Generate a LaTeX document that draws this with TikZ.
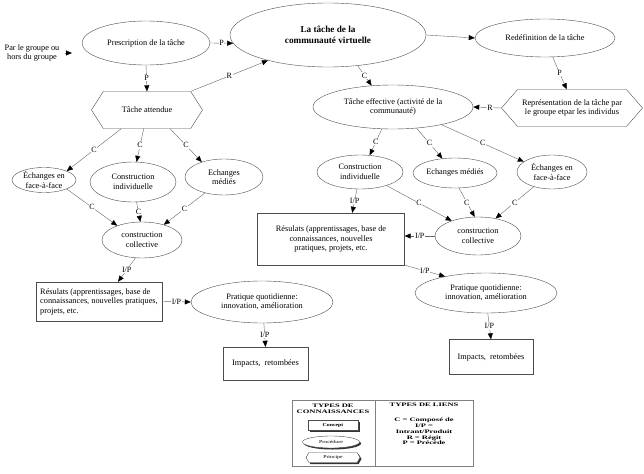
\documentclass[tikz,border=0pt]{standalone}
\usepackage{fontspec}
\setmainfont{Liberation Serif}
\usetikzlibrary{shapes.geometric,shapes.symbols,arrows.meta,shadows}
\newcommand{\legtext}[1]{\scalebox{1.6}[1]{\begin{tabular}{@{}c@{}}#1\end{tabular}}}

\begin{document}
\begin{tikzpicture}[
    x=1pt, y=-1pt,
    every node/.style={font=\fontsize{8.3}{9.5}\selectfont},
    oval/.style={draw=black!70, ellipse, inner sep=0pt, align=center},
    hexa/.style={draw=black!70, signal, signal to=east and west, inner sep=1pt, align=center},
    box/.style={draw=black!70, rectangle, inner sep=2pt},
    link/.style={draw=black!60, -{Triangle[length=6pt,width=5pt,color=black]}},
    lbl/.style={fill=white, inner sep=0.6pt, font=\fontsize{8}{8}\selectfont},
    legfont/.style={font=\fontsize{5.3}{5.9}\selectfont\bfseries},
    shade/.style={drop shadow={shadow xshift=1.5pt, shadow yshift=-1.5pt, fill=black!80, opacity=1}}
  ]
  \useasboundingbox (0,0) rectangle (644,473);
  \node [align=center] (par) at (32,53) {Par le groupe ou\\hors du groupe};
  \coordinate (parA) at (65,53);
  \coordinate (parB) at (72,53);
  \node [oval, minimum width=128pt, minimum height=44pt] (pres) at (146,43) {Prescription de la tâche};
  \node [oval, minimum width=196pt, minimum height=64pt,
    font=\fontsize{9.2}{11}\selectfont\bfseries] (main) at (328,35) {La tâche de la\\communauté virtuelle};
  \node [oval, minimum width=140pt, minimum height=38pt] (redef) at (545,38) {Redéfinition de la tâche};
  \node [hexa, minimum width=111pt, minimum height=37pt, signal pointer angle=115] (att) at (147,110) {Tâche attendue};
  \node [hexa, minimum width=141pt, minimum height=37pt, signal pointer angle=98] (repr) at (572,108)
    {Représentation de la tâche par\\le groupe etpar les individus};
  \node [oval, minimum width=160pt, minimum height=44pt] (eff) at (393,107) {Tâche effective (activité de la\\communauté)};

  \node [oval, minimum width=64pt, minimum height=25pt] (efl) at (44,180) {Échanges en\\face-à-face};
  \node [oval, minimum width=86pt, minimum height=40pt] (cil) at (133,182) {Construction\\individuelle};
  \node [oval, minimum width=78pt, minimum height=36pt] (eml) at (224,177) {Echanges\\médiés};
  \node [oval, minimum width=80pt, minimum height=36pt] (ccl) at (142,240) {construction\\collective};
  \node [box, minimum width=126pt, minimum height=39pt, align=left] (resl) at (99,301.5)
    {Résulats (apprentissages, base de\\connaissances, nouvelles pratiques,\\projets, etc.};
  \node [oval, minimum width=142pt, minimum height=42pt] (pratl) at (262,302) {Pratique quotidienne:\\innovation, amélioration};
  \node [box, minimum width=85pt, minimum height=33pt] (impl) at (265.5,363.5) {Impacts,~~retombées};

  \node [oval, minimum width=86pt, minimum height=34pt] (cir) at (360,172) {Construction\\individuelle};
  \node [oval, minimum width=84pt, minimum height=30pt] (emr) at (455,173) {Echanges médiés};
  \node [oval, minimum width=70pt, minimum height=34pt] (efr) at (552,172) {Échanges en\\face-à-face};
  \node [oval, minimum width=86pt, minimum height=38pt] (ccr) at (478,236) {construction\\collective};
  \node [box, minimum width=147pt, minimum height=52pt, align=center] (resr) at (331,239)
    {Résulats (apprentissages, base de\\connaissances, nouvelles\\pratiques, projets, etc.};
  \node [oval, minimum width=142pt, minimum height=40pt] (pratr) at (486,293) {Pratique quotidienne:\\innovation, amélioration};
  \node [box, minimum width=84pt, minimum height=35pt] (impr) at (491,357) {Impacts,~~retombées};

  \draw [link] (parA) -- (parB);
  \draw [link] (pres.east) -- (main.185) node [lbl,pos=0.5] {P};
  \draw [link] (main.east) -- (redef.west);
  \draw [link] (pres.south) -- (att.north) node [lbl,pos=0.5] {P};
  \draw [link] (att.north east) -- (main.203) node [lbl,pos=0.5] {R};
  \draw [link] (redef.292) -- (repr.106) node [lbl,pos=0.5] {P};
  \draw [link] (repr.west) -- (eff.east) node [lbl,pos=0.4] {R};
  \draw [link] (main.314) -- (eff.135) node [lbl,pos=0.5] {C};

  \draw [link] (att.216) -- (efl.north east) node [lbl,pos=0.5] {C};
  \draw [link] (att.260) -- (cil.80) node [lbl,pos=0.5] {C};
  \draw [link] (att.321) -- (eml.146) node [lbl,pos=0.5] {C};
  \draw [link] (efl.south east) -- (ccl.150) node [lbl,pos=0.5] {C};
  \draw [link] (cil.-80) -- (ccl.95) node [lbl,pos=0.5] {C};
  \draw [link] (eml.220) -- (ccl.35) node [lbl,pos=0.5] {C};
  \draw [link] (ccl.250) -- (resl.46) node [lbl,pos=0.5] {I/P};
  \draw [link] (resl.east) -- (pratl.west) node [lbl,pos=0.5] {I/P};
  \draw [link] (pratl.-85) -- (impl.north) node [lbl,pos=0.5] {I/P};

  \draw [link] (eff.243) -- (cir.60) node [lbl,pos=0.5] {C};
  \draw [link] (eff.318) -- (emr.131) node [lbl,pos=0.5] {C};
  \draw [link] (eff.340) -- (efr.160) node [lbl,pos=0.5] {C};
  \draw [link] (cir.333) -- (ccr.150) node [lbl,pos=0.5] {C};
  \draw [link] (emr.285) -- (ccr.100) node [lbl,pos=0.5] {C};
  \draw [link] (efr.219) -- (ccr.45) node [lbl,pos=0.5] {C};
  \draw [link] (cir.260) -- (resr.51) node [lbl,pos=0.5] {I/P};
  \draw [link] (ccr.west) -- (ccr.west -| resr.east) node [lbl,pos=0.5] {I/P};
  \draw [link] (resr.south east) -- (pratr.158) node [lbl,pos=0.5] {I/P};
  \draw [link] (pratr.-85) -- (impr.north) node [lbl,pos=0.5] {I/P};

  \draw [black!50] (292,400) rectangle (473,466);
  \draw [black!50] (375,400) -- (375,466);
  \node [legfont] (legk) at (333,409) {\legtext{TYPES DE\\CONNAISSANCES}};
  \node [legfont] (legl) at (424,405) {\legtext{TYPES DE LIENS}};
  \node [legfont] (legv) at (424,432) {\legtext{C = Composé de\\I/P =\\Intrant/Produit\\R = Régit\\P = Précède}};
  \node [box, shade, fill=white, minimum width=50pt, minimum height=10pt, inner sep=0pt,
    font=\fontsize{4.5}{5}\selectfont\bfseries] (lconc) at (333,425) {\scalebox{1.3}[1]{Concept}};
  \node [oval, shade, fill=white, minimum width=57pt, minimum height=12pt,
    font=\fontsize{4.5}{5}\selectfont] (lproc) at (331,442) {\scalebox{1.3}[1]{Procédure}};
  \node [hexa, shade, fill=white, minimum width=54pt, minimum height=10pt, inner sep=0pt, signal pointer angle=120,
    font=\fontsize{4.5}{5}\selectfont] (lprin) at (333,457.5) {\scalebox{1.3}[1]{Principe}};
\end{tikzpicture}
\end{document}
